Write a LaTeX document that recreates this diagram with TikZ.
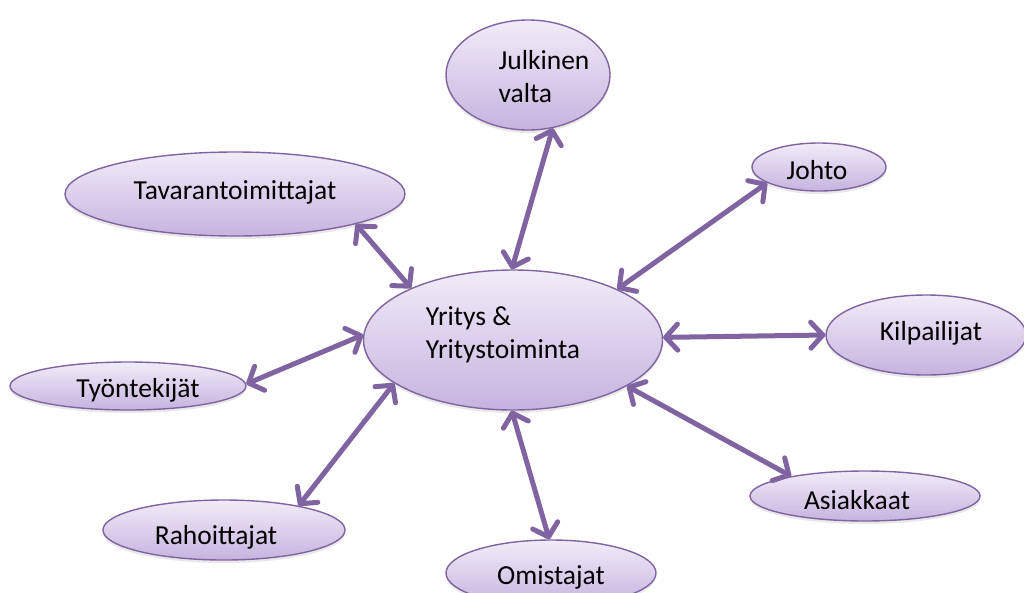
\documentclass[tikz,border=0pt]{standalone}
\usepackage{fontspec}
\setmainfont{Carlito}
\usetikzlibrary{shapes.geometric,arrows.meta,shadows}
\definecolor{edgepurple}{HTML}{8064A2}
\definecolor{fillTop}{HTML}{F1ECF8}
\definecolor{fillBot}{HTML}{C6B3DF}
\tikzset{
  bubble/.style={ellipse, draw=edgepurple, line width=1.4pt, inner sep=0pt,
    top color=fillTop, bottom color=fillBot,
    drop shadow={opacity=0.18, shadow xshift=0pt, shadow yshift=-3pt}},
  lbl/.style={font=\fontsize{27.5}{33}\selectfont, text=black, inner sep=0pt},
  link/.style={edgepurple, line width=5pt, line cap=round,
    {Straight Barb[round,length=12pt,width=26pt]}-{Straight Barb[round,length=12pt,width=26pt]}}
}
\begin{document}
\begin{tikzpicture}[x=1pt,y=-1pt]
\useasboundingbox (0,0) rectangle (1024,592);
\clip (0,0) rectangle (1024,592);
\fill[white] (0,0) rectangle (1024,592);
% bubbles
\node[bubble, minimum width=299pt, minimum height=140pt] (c) at (513,340) {};
\node[bubble, minimum width=164pt, minimum height=110pt] (julk) at (528,75) {};
\node[bubble, minimum width=340pt, minimum height=84pt] (tav) at (235,194) {};
\node[bubble, minimum width=134pt, minimum height=48pt] (johto) at (819,167) {};
\node[bubble, minimum width=200pt, minimum height=80pt] (kilp) at (926,335) {};
\node[bubble, minimum width=236pt, minimum height=48pt] (tyon) at (128,386) {};
\node[bubble, minimum width=230pt, minimum height=50pt] (asiak) at (865,496) {};
\node[bubble, minimum width=242pt, minimum height=60pt] (rah) at (224,530) {};
\node[bubble, minimum width=210pt, minimum height=66pt] (omis) at (551,573) {};
% labels
\node[lbl, align=left] (tc) at (503,335) {Yritys \&\\Yritystoiminta};
\node[lbl, align=left] (tjulk) at (544,77) {Julkinen\\valta};
\node[lbl] (ttav) at (235,192) {Tavarantoimittajat};
\node[lbl] (tjohto) at (817,170) {Johto};
\node[lbl] (tkilp) at (931,333) {Kilpailijat};
\node[lbl] (ttyon) at (138,390) {Työntekijät};
\node[lbl] (tasiak) at (857,500) {Asiakkaat};
\node[lbl] (trah) at (216,537) {Rahoittajat};
\node[lbl] (tomis) at (551,577) {Omistajat};
% connectors
\draw[link] (c.91) -- (julk.295);
\draw[link] (c.153.5) -- (tav.-14);
\draw[link] (c.26) -- (johto.197);
\draw[link] (c.1.5) -- (kilp.180.6);
\draw[link] (c.178) -- (tyon.1.4);
\draw[link] (c.-22.4) -- (asiak.165.4);
\draw[link] (c.200.5) -- (rah.18);
\draw[link] (c.269) -- (omis.93);
\end{tikzpicture}
\end{document}
